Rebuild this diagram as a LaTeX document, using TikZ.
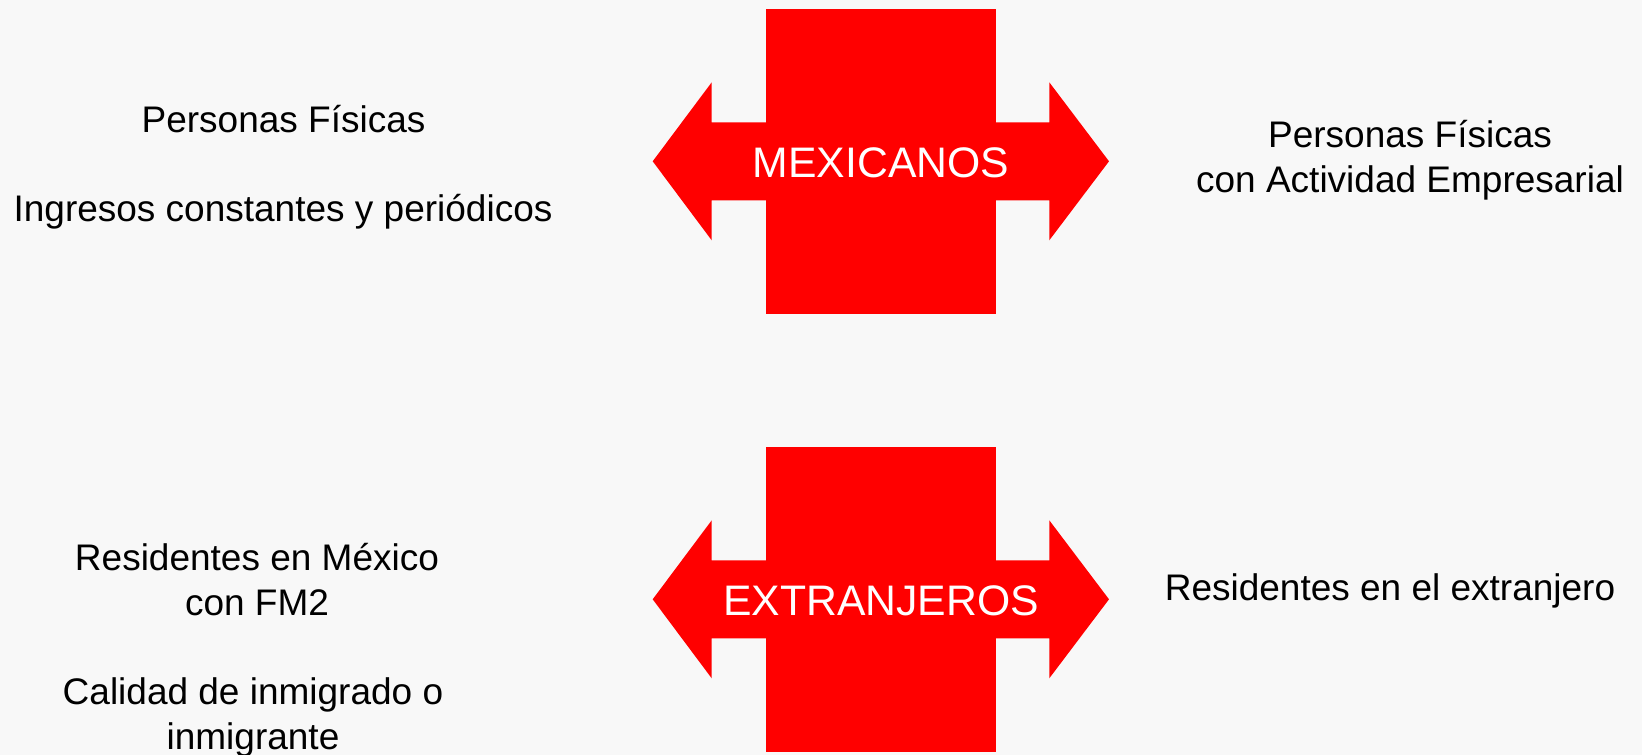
\documentclass[tikz,border=0pt]{standalone}
\usepackage{fontspec}
\setmainfont{Liberation Sans}
\definecolor{bg}{HTML}{F8F8F8}
\definecolor{arrowred}{HTML}{FF0000}
\begin{document}
\begin{tikzpicture}[x=1pt,y=-1pt,
  shapefill/.style={fill=arrowred,draw=none},
  bigtxt/.style={text=white,font=\fontsize{42.7}{50}\selectfont,inner sep=0pt,anchor=base},
  sidetxt/.style={text=black,font=\fontsize{37}{45}\selectfont,inner sep=0pt,anchor=base,align=center}]
\fill[bg] (0,0) rectangle (1642,755);
\useasboundingbox (0,0) rectangle (1642,755);
% double arrows with squares
\foreach \cy in {161.3,599.3}{
  \fill[shapefill] (766,\cy-152.3) rectangle (995.8,\cy+152.4);
  \fill[shapefill] (652.7,\cy) -- (711.7,\cy-79) -- (711.7,\cy-39) -- (1049.3,\cy-39)
    -- (1049.3,\cy-79) -- (1109,\cy) -- (1049.3,\cy+79) -- (1049.3,\cy+39)
    -- (711.7,\cy+39) -- (711.7,\cy+79) -- cycle;
}
\node[bigtxt] (mex) at (881,177.3) {MEXICANOS};
\node[bigtxt] (ext) at (881,615.7) {EXTRANJEROS};
% left texts
\node[sidetxt] (pf) at (283.5,132) {Personas Físicas};
\node[sidetxt] (ing) at (283,221.5) {Ingresos constantes y periódicos};
\node[sidetxt] (res) at (257,615) {Residentes en México\\con FM2};
\node[sidetxt] (cal) at (253,749) {Calidad de inmigrado o\\inmigrante};
% right texts
\node[sidetxt] (pfa) at (1410,192) {Personas Físicas\\con Actividad Empresarial};
\node[sidetxt] (rex) at (1390,600.7) {Residentes en el extranjero};
\end{tikzpicture}
\end{document}
